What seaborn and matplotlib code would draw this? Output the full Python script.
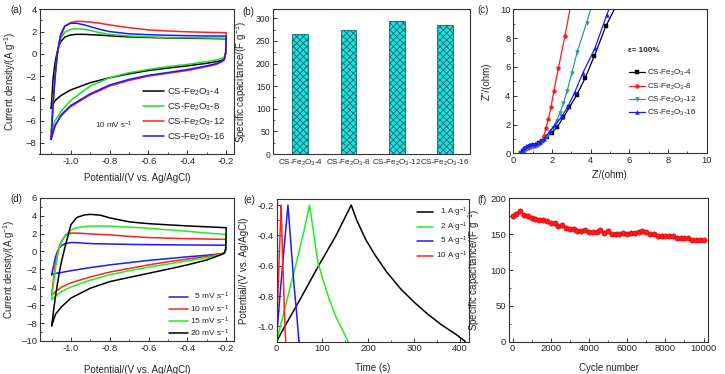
import numpy as np
import pandas as pd
import matplotlib
matplotlib.use("Agg")
import matplotlib.pyplot as plt
import seaborn as sns
from matplotlib.ticker import MultipleLocator

sns.set_theme(style="ticks")
plt.rcParams['font.family'] = ['Liberation Sans', 'DejaVu Sans']
plt.rcParams['mathtext.fontset'] = 'custom'
plt.rcParams['mathtext.rm'] = 'Liberation Sans'
plt.rcParams['mathtext.it'] = 'Liberation Sans:italic'
plt.rcParams['mathtext.bf'] = 'Liberation Sans:bold'
plt.rcParams['hatch.color'] = '#0b6b6b'
plt.rcParams['hatch.linewidth'] = 0.6

# ---------------- (a) CV of samples at 10 mV/s ----------------
a_names = ["CS-Fe$_2$O$_3$-4", "CS-Fe$_2$O$_3$-8", "CS-Fe$_2$O$_3$-12", "CS-Fe$_2$O$_3$-16"]
a_colors = ["#000000", "#22dd22", "#ff2020", "#1a1aff"]
a_up_v = [-1.10, -1.09, -1.08, -1.07, -1.06, -1.05, -1.03, -1.00, -0.97, -0.93, -0.90, -0.85, -0.80, -0.70, -0.60, -0.50, -0.40, -0.30, -0.20]
a4_up  = [-4.9, -2.2, -0.8, 0.1, 0.7, 1.1, 1.5, 1.7, 1.75, 1.75, 1.72, 1.68, 1.62, 1.52, 1.47, 1.43, 1.40, 1.38, 1.35]
a8_up  = [-7.0, -4.0, -1.8, -0.2, 0.8, 1.4, 1.95, 2.2, 2.25, 2.2, 2.1, 1.9, 1.75, 1.6, 1.52, 1.47, 1.45, 1.42, 1.40]
a12_up = [-7.5, -4.5, -2.2, -0.4, 0.8, 1.6, 2.45, 2.8, 2.92, 2.9, 2.85, 2.75, 2.6, 2.35, 2.15, 2.05, 1.98, 1.93, 1.90]
a16_up = [-7.7, -4.5, -2.0, -0.2, 1.0, 1.8, 2.5, 2.75, 2.75, 2.6, 2.45, 2.2, 2.0, 1.8, 1.72, 1.67, 1.63, 1.60, 1.60]
a_dn_v = [-0.200, -0.203, -0.210, -0.225, -0.25, -0.30, -0.40, -0.50, -0.60, -0.70, -0.80, -0.90, -1.00, -1.05, -1.08, -1.10]
a4_dn  = [1.35, 0.0, -0.45, -0.6, -0.7, -0.85, -1.08, -1.28, -1.5, -1.8, -2.15, -2.6, -3.25, -3.75, -4.2, -4.9]
a8_dn  = [1.40, 0.0, -0.3, -0.42, -0.55, -0.7, -0.95, -1.15, -1.4, -1.7, -2.15, -2.9, -4.2, -5.2, -6.0, -7.0]
a12_dn = [1.90, 0.1, -0.55, -0.75, -0.95, -1.15, -1.5, -1.75, -2.0, -2.4, -2.9, -3.7, -4.75, -5.6, -6.4, -7.5]
a16_dn = [1.60, 0.1, -0.5, -0.68, -0.88, -1.08, -1.42, -1.68, -1.93, -2.3, -2.8, -3.6, -4.65, -5.5, -6.5, -7.7]

# ---------------- (b) specific capacitance ----------------
b_cats = ["CS-Fe$_2$O$_3$-4", "CS-Fe$_2$O$_3$-8", "CS-Fe$_2$O$_3$-12", "CS-Fe$_2$O$_3$-16"]
b_vals = [266, 275, 294, 286]

# ---------------- (c) Nyquist ----------------
c_names = ["CS-Fe$_2$O$_3$-4", "CS-Fe$_2$O$_3$-8", "CS-Fe$_2$O$_3$-12", "CS-Fe$_2$O$_3$-16"]
c_colors = ["#000000", "#ff1a1a", "#2a9a94", "#1a1aff"]
c_markers = ["s", "o", "v", "^"]
c4_re  = [0.42, 0.5, 0.6, 0.75, 0.9, 1.05, 1.2, 1.35, 1.5, 1.72, 1.98, 2.28, 2.59, 2.9, 3.28, 3.71, 4.19, 4.79, 5.3]
c4_im  = [0.0, 0.15, 0.28, 0.4, 0.48, 0.53, 0.6, 0.7, 0.85, 1.16, 1.42, 1.85, 2.5, 3.19, 4.05, 5.21, 6.76, 8.84, 10.2]
c8_re  = [0.4, 0.48, 0.58, 0.7, 0.85, 1.0, 1.15, 1.3, 1.45, 1.58, 1.69, 1.81, 1.95, 2.1, 2.33, 2.67, 3.0]
c8_im  = [0.0, 0.18, 0.3, 0.4, 0.47, 0.5, 0.55, 0.65, 0.85, 1.2, 1.74, 2.38, 3.19, 4.35, 5.9, 8.15, 10.5]
c12_re = [0.42, 0.5, 0.6, 0.72, 0.86, 1.0, 1.15, 1.3, 1.45, 1.6, 1.75, 1.9, 2.03, 2.24, 2.41, 2.59, 2.79, 3.02, 3.31, 3.79, 4.05]
c12_im = [0.0, 0.15, 0.26, 0.35, 0.42, 0.45, 0.5, 0.6, 0.75, 0.95, 1.2, 1.45, 1.74, 2.27, 2.78, 3.47, 4.35, 5.56, 7.06, 9.07, 10.2]
c16_re = [0.38, 0.45, 0.55, 0.67, 0.8, 0.95, 1.1, 1.25, 1.4, 1.6, 1.9, 2.16, 2.5, 2.84, 3.19, 3.59, 4.22, 4.83, 5.0]
c16_im = [0.0, 0.2, 0.38, 0.5, 0.6, 0.65, 0.68, 0.72, 0.8, 1.0, 1.55, 1.97, 2.55, 3.29, 4.28, 5.56, 7.29, 9.6, 10.2]

# ---------------- (d) CV at different scan rates ----------------
d_names = ["  5 mV s$^{-1}$", "10 mV s$^{-1}$", "15 mV s$^{-1}$", "20 mV s$^{-1}$"]
d_colors = ["#1a1aff", "#ff2020", "#22ee22", "#000000"]
d_up_v = a_up_v
d5_up  = [-2.6, -1.6, -0.6, 0.0, 0.4, 0.65, 0.88, 1.0, 0.98, 0.92, 0.88, 0.85, 0.83, 0.79, 0.76, 0.74, 0.72, 0.71, 0.70]
d10_up = [-4.9, -3.0, -1.3, -0.2, 0.6, 1.1, 1.75, 2.05, 2.05, 2.0, 1.96, 1.9, 1.85, 1.68, 1.55, 1.48, 1.43, 1.38, 1.35]
d15_up = [-5.4, -3.5, -1.8, -0.5, 0.4, 1.0, 1.8, 2.4, 2.65, 2.78, 2.82, 2.84, 2.82, 2.72, 2.58, 2.42, 2.25, 2.05, 1.90]
d20_up = [-8.3, -6.6, -5.0, -3.6, -2.3, -1.2, 0.6, 3.0, 3.8, 4.08, 4.14, 4.05, 3.75, 3.3, 3.1, 2.97, 2.85, 2.75, 2.65]
d_dn_v = a_dn_v
d5_dn  = [0.70, 0.1, -0.2, -0.27, -0.32, -0.42, -0.6, -0.8, -1.0, -1.25, -1.5, -1.8, -2.15, -2.35, -2.45, -2.6]
d10_dn = [1.35, 0.1, -0.15, -0.25, -0.35, -0.55, -0.85, -1.15, -1.5, -1.9, -2.3, -2.85, -3.5, -4.0, -4.5, -4.9]
d15_dn = [1.90, 0.1, -0.2, -0.32, -0.45, -0.7, -1.05, -1.4, -1.75, -2.15, -2.6, -3.2, -3.95, -4.5, -5.0, -5.4]
d20_dn = [2.65, 0.3, -0.2, -0.35, -0.55, -0.95, -1.5, -1.98, -2.44, -2.9, -3.37, -4.1, -5.2, -6.2, -7.0, -8.3]

# ---------------- (e) GCD ----------------
e_names = ["  1 A$\\cdot$g$^{-1}$", "  2 A$\\cdot$g$^{-1}$", "  5 A$\\cdot$g$^{-1}$", "10 A$\\cdot$g$^{-1}$"]
e_colors = ["#000000", "#22ee22", "#1a1aff", "#ff2020"]
e1_t = [0, 20, 50, 90, 130, 163, 175, 195, 215, 240, 270, 300, 330, 360, 390, 412]
e1_v = [-1.1, -0.99, -0.83, -0.61, -0.4, -0.2, -0.3, -0.43, -0.53, -0.64, -0.75, -0.84, -0.92, -0.99, -1.05, -1.1]
e2_t = [0, 10, 25, 45, 60, 72, 78, 85, 90, 100, 115, 130, 145, 156]
e2_v = [-1.1, -0.98, -0.8, -0.56, -0.37, -0.2, -0.32, -0.47, -0.57, -0.68, -0.82, -0.94, -1.03, -1.1]
e5_t = [0, 1, 8, 16, 25, 28, 33, 38, 44, 49]
e5_v = [-1.1, -1.04, -0.78, -0.5, -0.2, -0.32, -0.52, -0.72, -0.92, -1.1]
e10_t = [0, 1, 10, 11, 14, 17, 20]
e10_v = [-1.1, -0.96, -0.2, -0.3, -0.6, -0.88, -1.1]

# ---------------- (f) cycling ----------------
f_cycles = list(range(0, 10001, 200))
f_cap = [176, 178, 182, 177, 176, 173, 171, 170, 170, 169, 166, 165, 162, 163, 158, 157, 157, 154, 154, 156,
         153, 153, 153, 156, 151, 154, 150, 150, 150, 152, 150, 152, 151, 153, 154, 153, 150, 150, 148, 148,
         147, 147, 147, 145, 144, 144, 144, 142, 142, 142, 142]

W, H = 725, 374
fig = plt.figure(figsize=(W / 100, H / 100), dpi=100)

def add_ax(l, t, r, b):
    return fig.add_axes([l / W, 1 - b / H, (r - l) / W, (b - t) / H])

def style(ax, fs=6.8):
    for s in ax.spines.values():
        s.set_color("#333333")
        s.set_linewidth(0.8)
    ax.tick_params(which='both', direction='in', top=False, right=False, labelsize=fs,
                   color="#333333", pad=2)
    ax.tick_params(which='major', length=3, width=0.7)
    ax.tick_params(which='minor', length=1.7, width=0.6)

def px_label(ax, xlabel_y=None, ylabel_x=None, box=None):
    l, t, r, b = box
    if xlabel_y is not None:
        ax.xaxis.set_label_coords(0.5, -(xlabel_y - b) / (b - t))
    if ylabel_x is not None:
        ax.yaxis.set_label_coords(-(l - ylabel_x) / (r - l), 0.5)

LFS = 7

# ---- (a)
box_a = (39.5, 9.3, 234, 154)
ax = add_ax(*box_a)
rows = []
for name, up, dn in zip(a_names, [a4_up, a8_up, a12_up, a16_up], [a4_dn, a8_dn, a12_dn, a16_dn]):
    for k, (v, i) in enumerate(list(zip(a_up_v, up)) + list(zip(a_dn_v, dn))):
        rows.append((name, k, v, i))
df_a = pd.DataFrame(rows, columns=["sample", "k", "V", "I"])
sns.lineplot(data=df_a, x="V", y="I", hue="sample", palette=a_colors, sort=False,
             estimator=None, lw=1.1, ax=ax)
ax.set_xlim(-1.16, -0.16)
ax.set_ylim(-9, 4)
ax.xaxis.set_major_locator(MultipleLocator(0.2)); ax.xaxis.set_minor_locator(MultipleLocator(0.1))
ax.yaxis.set_major_locator(MultipleLocator(2)); ax.yaxis.set_minor_locator(MultipleLocator(1))
ax.xaxis.set_major_formatter(matplotlib.ticker.FormatStrFormatter('%.1f'))
style(ax)
ax.set_xlabel("Potential/(V vs. Ag/AgCl)", fontsize=LFS)
ax.set_ylabel("Current density/(A g$^{-1}$)", fontsize=LFS)
px_label(ax, 172.7, 18, box_a)
ax.legend(frameon=False, fontsize=6.8, loc="upper left", bbox_to_anchor=(138 / W, 1 - 82 / H),
          bbox_transform=fig.transFigure, borderpad=0, handlelength=2.3, handletextpad=0.3,
          labelspacing=0.35)
ax.text(95 / W, 1 - 125 / H, "10 mV s$^{-1}$", transform=fig.transFigure, fontsize=5.8,
        va="center", ha="left")

# ---- (b)
box_b = (273.3, 9.3, 470, 154)
ax = add_ax(*box_b)
df_b = pd.DataFrame({"cat": b_cats, "val": b_vals})
sns.barplot(data=df_b, x="cat", y="val", color="#1fe0e0", saturation=1, width=0.33,
            edgecolor="#0b6b6b", linewidth=0.6, hatch="xxxxx", ax=ax)
ax.set_xlim(-0.56, 3.52)
ax.set_ylim(0, 320)
ax.yaxis.set_major_locator(MultipleLocator(50)); ax.yaxis.set_minor_locator(MultipleLocator(25))
style(ax, fs=6.2)
ax.tick_params(axis='x', length=0, pad=3, labelsize=5.8)
ax.set_xlabel("")
ax.set_ylabel("Specific capacitance/(F g$^{-1}$)", fontsize=LFS)
px_label(ax, None, 249, box_b)

# ---- (c)
box_c = (513.3, 9.3, 706.7, 153.3)
ax = add_ax(*box_c)
for name, col, mk, re, im in zip(c_names, c_colors, c_markers,
                                 [c4_re, c8_re, c12_re, c16_re], [c4_im, c8_im, c12_im, c16_im]):
    sns.lineplot(x=re, y=im, color=col, marker=mk, markersize=2.8, markeredgewidth=0.3,
                 markeredgecolor=col, lw=0.9, sort=False, estimator=None, label=name, ax=ax)
ax.set_xlim(0, 10); ax.set_ylim(0, 10)
ax.xaxis.set_major_locator(MultipleLocator(2)); ax.xaxis.set_minor_locator(MultipleLocator(1))
ax.yaxis.set_major_locator(MultipleLocator(2)); ax.yaxis.set_minor_locator(MultipleLocator(1))
style(ax)
ax.set_xlabel("Z'/(ohm)", fontsize=LFS)
ax.set_ylabel("Z''/(ohm)", fontsize=LFS)
px_label(ax, 170, 492, box_c)
ax.legend(frameon=False, fontsize=5.8, loc="upper left", bbox_to_anchor=(625 / W, 1 - 64 / H),
          bbox_transform=fig.transFigure, borderpad=0, handlelength=2.0, handletextpad=0.25,
          labelspacing=0.4, numpoints=1)
ax.text(628 / W, 1 - 50 / H, "ε= 100%", transform=fig.transFigure, fontsize=5.8,
        fontweight="bold", va="center", ha="left")

# ---- (d)
box_d = (40, 197.7, 234, 341)
ax = add_ax(*box_d)
rows = []
for name, up, dn in zip(d_names, [d5_up, d10_up, d15_up, d20_up], [d5_dn, d10_dn, d15_dn, d20_dn]):
    for k, (v, i) in enumerate(list(zip(d_up_v, up)) + list(zip(d_dn_v, dn))):
        rows.append((name, k, v, i))
df_d = pd.DataFrame(rows, columns=["rate", "k", "V", "I"])
sns.lineplot(data=df_d, x="V", y="I", hue="rate", palette=d_colors, sort=False,
             estimator=None, lw=1.1, ax=ax)
ax.set_xlim(-1.16, -0.16)
ax.set_ylim(-10, 6)
ax.xaxis.set_major_locator(MultipleLocator(0.2)); ax.xaxis.set_minor_locator(MultipleLocator(0.1))
ax.yaxis.set_major_locator(MultipleLocator(2)); ax.yaxis.set_minor_locator(MultipleLocator(1))
ax.xaxis.set_major_formatter(matplotlib.ticker.FormatStrFormatter('%.1f'))
style(ax)
ax.set_xlabel("Potential/(V vs. Ag/AgCl)", fontsize=LFS)
ax.set_ylabel("Current density/(A.g$^{-1}$)", fontsize=LFS)
px_label(ax, 365, 17.5, box_d)
ax.legend(frameon=False, fontsize=6.0, loc="upper left", bbox_to_anchor=(165 / W, 1 - 287 / H),
          bbox_transform=fig.transFigure, borderpad=0, handlelength=2.2, handletextpad=0.3,
          labelspacing=0.1)

# ---- (e)
box_e = (276.5, 199, 469.5, 341.5)
ax = add_ax(*box_e)
for name, col, t, v in zip(e_names, e_colors, [e1_t, e2_t, e5_t, e10_t], [e1_v, e2_v, e5_v, e10_v]):
    sns.lineplot(x=t, y=v, color=col, lw=1.1, sort=False, estimator=None, label=name, ax=ax)
ax.set_xlim(0, 421)
ax.set_ylim(-1.1, -0.16)
ax.xaxis.set_major_locator(MultipleLocator(100)); ax.xaxis.set_minor_locator(MultipleLocator(50))
ax.yaxis.set_major_locator(MultipleLocator(0.2)); ax.yaxis.set_minor_locator(MultipleLocator(0.1))
ax.yaxis.set_major_formatter(matplotlib.ticker.FormatStrFormatter('%.1f'))
style(ax)
ax.set_xlabel("Time (s)", fontsize=LFS)
ax.set_ylabel("Potential/(V vs. Ag/AgCl)", fontsize=LFS)
px_label(ax, 363, 249, box_e)
ax.legend(frameon=False, fontsize=5.8, loc="upper left", bbox_to_anchor=(413 / W, 1 - 202 / H),
          bbox_transform=fig.transFigure, borderpad=0, handlelength=2.0, handletextpad=0.3,
          labelspacing=0.15)

# ---- (f)
box_f = (508.7, 198.3, 708.3, 341.7)
ax = add_ax(*box_f)
sns.lineplot(x=f_cycles, y=f_cap, color="#ff1a1a", marker="o", markersize=3.8,
             markeredgecolor="#d00000", markeredgewidth=0.4, lw=0.8, ax=ax)
ax.set_xlim(-200, 10250)
ax.set_ylim(0, 200)
ax.xaxis.set_major_locator(MultipleLocator(2000)); ax.xaxis.set_minor_locator(MultipleLocator(1000))
ax.yaxis.set_major_locator(MultipleLocator(50)); ax.yaxis.set_minor_locator(MultipleLocator(25))
style(ax)
ax.set_xlabel("Cycle number", fontsize=LFS)
ax.set_ylabel("Specific capacitance/(F g$^{-1}$)", fontsize=LFS)
px_label(ax, 363, 482, box_f)

# panel letters
for lab, x, y in [("(a)", 10.5, 10), ("(b)", 242.5, 12), ("(c)", 477, 10),
                  ("(d)", 10.5, 199), ("(e)", 243, 200), ("(f)", 477, 200)]:
    fig.text(x / W, 1 - y / H, lab, fontsize=7, ha="left", va="center")

fig.savefig("out.png", dpi=100)
